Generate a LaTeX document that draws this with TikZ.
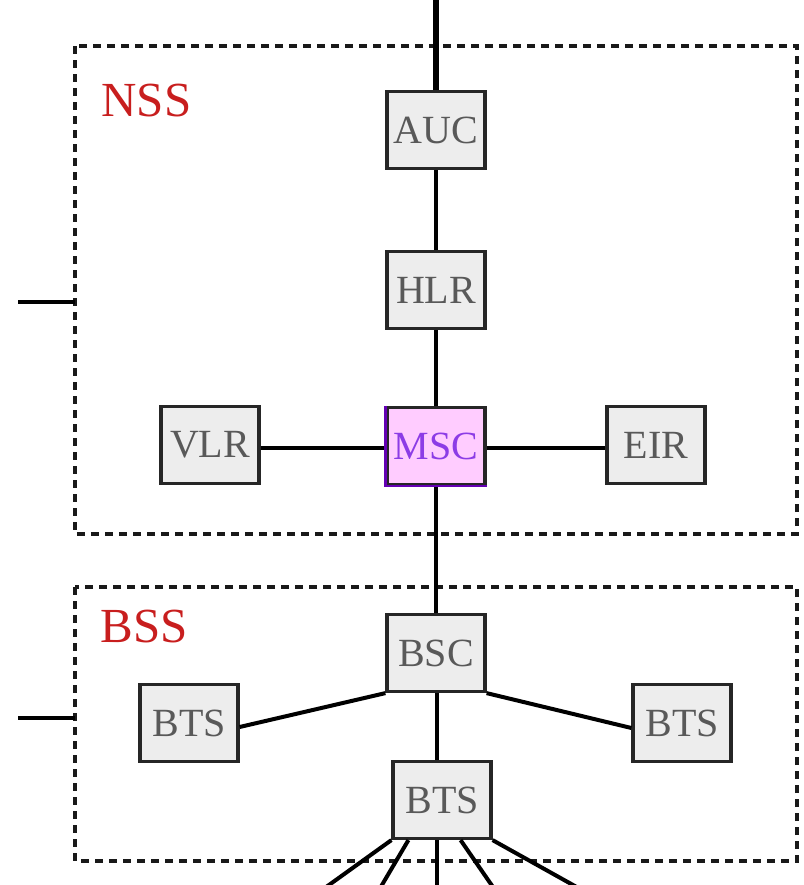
\documentclass[tikz,border=0pt]{standalone}
\usepackage{fontspec}
\setmainfont{Liberation Serif}
\definecolor{mscfill}{RGB}{255,204,255}
\definecolor{msctext}{RGB}{140,60,230}
\definecolor{mscedge}{RGB}{100,0,180}
\definecolor{grplabel}{RGB}{200,30,30}
\begin{document}
\begin{tikzpicture}[x=0.5pt,y=-0.5pt,
  box/.style={draw=black!85,line width=1.6pt,fill=black!7,minimum width=49pt,minimum height=38.5pt,inner sep=0pt,text=black!65,font=\fontsize{20}{24}\selectfont},
  conn/.style={line width=2pt,black},
  group/.style={draw=black!90,line width=1.6pt,dash pattern=on 4pt off 3pt},
  glabel/.style={text=grplabel,font=\fontsize{24.5}{28}\selectfont,anchor=west,inner sep=0pt}]
\useasboundingbox (0,0) rectangle (804,885);
\clip (0,0) rectangle (804,885);
% groups
\draw[group] (75,46) rectangle (797,534);
\draw[group] (75,587) rectangle (797,861);
\node[glabel] (nss) at (101,101) {NSS};
\node[glabel] (bss) at (100,627) {BSS};
% nodes
\node[box] (auc) at (436,130) {AUC};
\node[box] (hlr) at (436,290) {HLR};
\node[box] (vlr) at (210,445) {VLR};
\node[box] (eir) at (656,445) {EIR};
\node[box] (bsc) at (436,653) {BSC};
\node[box] (btsl) at (189,723) {BTS};
\node[box] (btsr) at (682,723) {BTS};
\node[box] (btsb) at (442,800) {BTS};
% free ends
\coordinate (top) at (436,0);
\coordinate (nssin) at (18,302);
\coordinate (nssedge) at (75,302);
\coordinate (bssin) at (18,718);
\coordinate (bssedge) at (75,718);
\coordinate (e1) at (322,890);
\coordinate (e2) at (379,890);
\coordinate (e3) at (437,890);
\coordinate (e4) at (495,890);
\coordinate (e5) at (582,890);
\node[box,fill=mscfill,text=msctext] (msc) at (436,446) {MSC};
% connectors
\draw[line width=2.8pt] (top) -- (auc.north);
\draw[conn] (auc) -- (hlr);
\draw[conn] (hlr) -- (msc);
\draw[conn] (vlr.east |- 0,448) -- (msc.west |- 0,448);
\draw[conn] (msc.east |- 0,448) -- (eir.west |- 0,448);
\draw[conn] (msc) -- (bsc);
\draw[conn] (nssin) -- (nssedge);
\draw[conn] (bssin) -- (bssedge);
\draw[conn] (bsc.south west) -- (btsl.east |- 0,727);
\draw[conn] (bsc.south east) -- (btsr.west |- 0,728);
\draw[conn] (bsc.south -| 437,0) -- (btsb.north -| 437,0);
\draw[conn] (btsb.south west) -- (e1);
\draw[conn] ([xshift=8.5pt]btsb.south west) -- (e2);
\draw[conn] (btsb.south -| 437,0) -- (e3);
\draw[conn] ([xshift=-16pt]btsb.south east) -- (e4);
\draw[conn] (btsb.south east) -- (e5);
\draw[line width=1.3pt,mscedge] (msc.north west) -- (msc.south west) -- (msc.south east);
\end{tikzpicture}
\end{document}
